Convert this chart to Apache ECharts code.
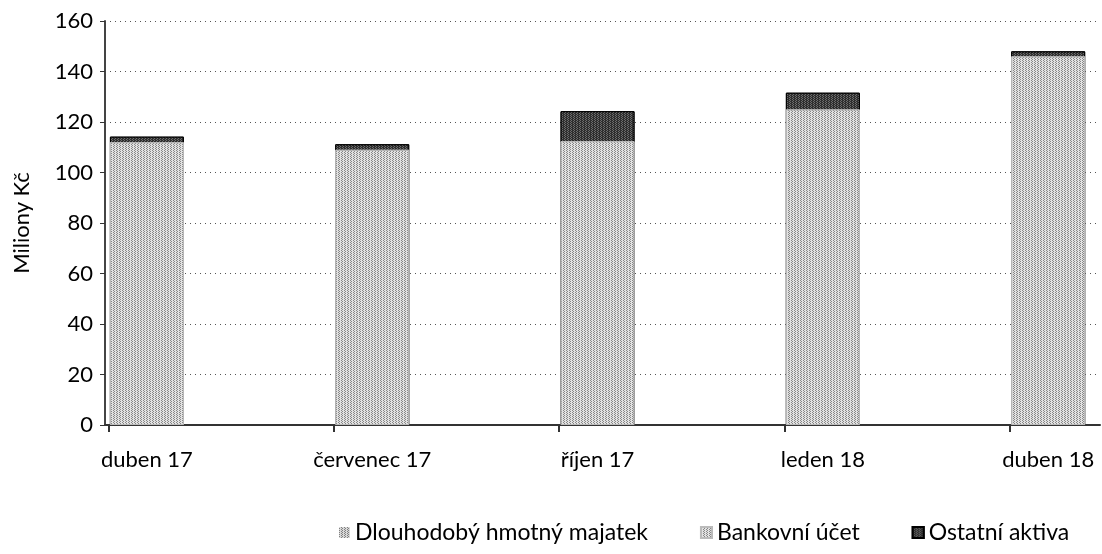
<!DOCTYPE html>
<html>
<head>
<meta charset="utf-8">
<script src="https://cdn.jsdelivr.net/npm/echarts@6/dist/echarts.min.js"></script>
<style>
  html, body { margin: 0; padding: 0; background: #fff; }
  #chart { width: 1102px; height: 554px; }
</style>
</head>
<body>
<div id="chart"></div>
<script>
// data (milliony Kč)
var categories = ['duben 17', 'červenec 17', 'říjen 17', 'leden 18', 'duben 18']
var dlouhodoby = [0, 0, 0, 0, 0]
var bankovni = [112, 109, 112.4, 125, 146]
var ostatni = [2.2, 2.2, 11.9, 6.6, 2]
var yMin = 0
var yMax = 160
var yStep = 20

var font = 'Lato'

// bars sit on a numeric x axis (Excel date-axis look), so the stack is
// drawn as overlapping running totals: top segment first, bottom last
function totals(lists) {
  return categories.map(function(c, i) {
    var s = 0
    lists.forEach(function(l) { s += l[i] })
    return [i, s]
  })
}

var lightDecal = {
  symbol: 'rect',
  symbolSize: 1,
  dashArrayX: [[1, 2], [0, 2, 1, 0]],
  dashArrayY: [1, 0],
  color: 'rgba(0,0,0,0.4)'
}
var darkDecal = {
  symbol: 'rect',
  symbolSize: 1,
  dashArrayX: [[1, 2], [0, 1, 1, 1]],
  dashArrayY: [1, 0],
  color: 'rgba(255,255,255,0.3)'
}

var myChart = echarts.init(document.getElementById('chart'))
var option = {
  animation: false,
  textStyle: { fontFamily: font },
  grid: {
    left: 105,
    right: 2,
    top: 21,
    bottom: 129
  },
  legend: {
    bottom: 5,
    left: 334,
    itemWidth: 11,
    itemHeight: 11,
    itemGap: 52,
    icon: 'rect',
    textStyle: { color: '#000', fontSize: 23, fontFamily: font },
    data: ['Dlouhodobý hmotný majatek', 'Bankovní účet', 'Ostatní aktiva']
  },
  xAxis: {
    type: 'value',
    min: -0.186,
    max: 4.23,
    splitLine: { show: false },
    axisLine: { onZero: false, lineStyle: { color: '#333', width: 2 } },
    axisTick: {
      show: true,
      length: 7,
      customValues: categories.map(function(c, i) { return i - 0.17 }),
      lineStyle: { color: '#333', width: 2 }
    },
    axisLabel: {
      customValues: categories.map(function(c, i) { return i }),
      formatter: function(v) { return categories[Math.round(v)] },
      color: '#000',
      fontSize: 22,
      margin: 24
    }
  },
  yAxis: {
    type: 'value',
    min: yMin,
    max: yMax,
    interval: yStep,
    name: 'Miliony Kč',
    nameLocation: 'middle',
    nameGap: 72,
    nameRotate: 90,
    nameTextStyle: { color: '#000', fontSize: 22, fontFamily: font },
    axisLine: { show: true, onZero: false, lineStyle: { color: '#444', width: 2 } },
    axisTick: { show: true, length: 5, lineStyle: { color: '#333' } },
    axisLabel: { color: '#000', fontSize: 22, margin: 12 },
    splitLine: { lineStyle: { color: '#555', type: [1, 4], width: 1 } }
  },
  series: [
    {
      name: 'Ostatní aktiva',
      type: 'bar',
      barWidth: 74,
      barGap: '-100%',
      z: 2,
      data: totals([dlouhodoby, bankovni, ostatni]),
      itemStyle: { color: '#2e2e2e', borderColor: '#000', borderWidth: 1, decal: darkDecal }
    },
    {
      name: 'Bankovní účet',
      type: 'bar',
      barWidth: 74,
      barGap: '-100%',
      z: 3,
      data: totals([dlouhodoby, bankovni]),
      itemStyle: { color: '#e2e2e2', borderColor: '#bbb', borderWidth: 1, decal: lightDecal }
    },
    {
      name: 'Dlouhodobý hmotný majatek',
      type: 'bar',
      barWidth: 74,
      barGap: '-100%',
      z: 4,
      data: totals([dlouhodoby]),
      itemStyle: { color: '#d8d8d8', decal: lightDecal }
    }
  ]
}
myChart.setOption(option)
window.addEventListener('resize', function() {
  myChart.resize()
})
</script>
</body>
</html>
